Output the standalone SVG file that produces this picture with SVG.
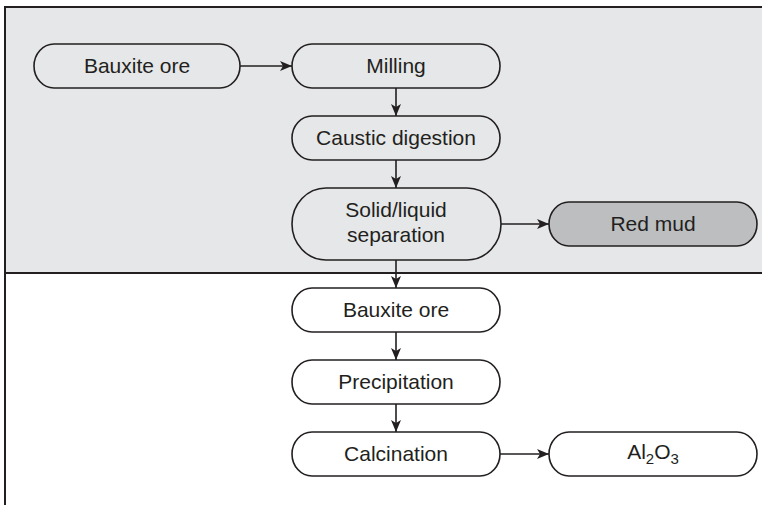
<svg xmlns="http://www.w3.org/2000/svg" width="762" height="505" viewBox="0 0 762 505">
<style>
.n{fill:#fff;stroke:#231f20;stroke-width:1.6}
.u{fill:none}
.g{fill:#bcbec0}
.t{font-family:"Liberation Sans",Arial,sans-serif;font-size:21px;fill:#231f20;text-anchor:middle}
.c{stroke:#231f20;stroke-width:1.6;fill:none;marker-end:url(#ah)}
</style>
<defs>
<marker id="ah" viewBox="0 0 12 10" refX="12" refY="5" markerWidth="12" markerHeight="10" markerUnits="userSpaceOnUse" orient="auto">
<path d="M0,0 L12,5 L0,10 L3,5 Z" fill="#231f20"/>
</marker>
</defs>
<g id="frame">
<rect x="5" y="7" width="800" height="266" fill="#e6e7e8" stroke="#231f20" stroke-width="2"/>
<line x1="5" y1="273" x2="5" y2="505" stroke="#231f20" stroke-width="2"/>
</g>
<g id="connectors">
<path class="c" d="M240,66 H292"/>
<path class="c" d="M396,88 V116"/>
<path class="c" d="M396,160 V188"/>
<path class="c" d="M501,224 H549"/>
<path class="c" d="M396,260 V288"/>
<path class="c" d="M396,332 V360"/>
<path class="c" d="M396,404 V432"/>
<path class="c" d="M500,454 H549"/>
</g>
<g id="bauxite1">
<rect class="n u" x="34" y="44" width="206" height="44" rx="20" ry="22"/>
<text class="t" x="137" y="73">Bauxite ore</text>
</g>
<g id="milling">
<rect class="n u" x="292" y="44" width="208" height="44" rx="20" ry="22"/>
<text class="t" x="396" y="73">Milling</text>
</g>
<g id="caustic">
<rect class="n u" x="292" y="116" width="208" height="44" rx="20" ry="22"/>
<text class="t" x="396" y="145">Caustic digestion</text>
</g>
<g id="separation">
<rect class="n u" x="292" y="188" width="209" height="72" rx="34" ry="36"/>
<text class="t" x="396" y="217">Solid/liquid</text>
<text class="t" x="396" y="242">separation</text>
</g>
<g id="redmud">
<rect class="n g" x="549" y="202" width="208" height="44" rx="20" ry="22"/>
<text class="t" x="653" y="231">Red mud</text>
</g>
<g id="bauxite2">
<rect class="n" x="292" y="288" width="208" height="44" rx="20" ry="22"/>
<text class="t" x="396" y="317">Bauxite ore</text>
</g>
<g id="precipitation">
<rect class="n" x="292" y="360" width="208" height="44" rx="20" ry="22"/>
<text class="t" x="396" y="389">Precipitation</text>
</g>
<g id="calcination">
<rect class="n" x="292" y="432" width="208" height="44" rx="20" ry="22"/>
<text class="t" x="396" y="461">Calcination</text>
</g>
<g id="al2o3">
<rect class="n" x="549" y="432" width="208" height="44" rx="20" ry="22"/>
<text class="t" x="653" y="459">Al<tspan font-size="15" dy="5">2</tspan><tspan dy="-5">O</tspan><tspan font-size="15" dy="5">3</tspan></text>
</g>
</svg>
